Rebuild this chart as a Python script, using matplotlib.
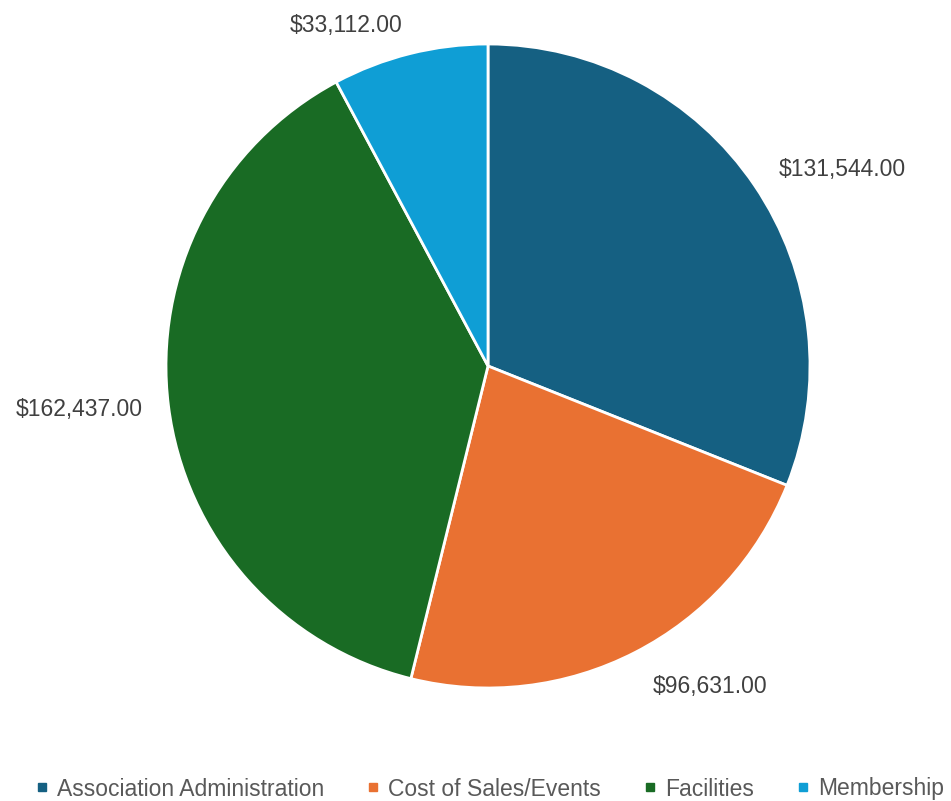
import numpy as np
import matplotlib.pyplot as plt
from matplotlib.lines import Line2D

categories = ['Association Administration', 'Cost of Sales/Events', 'Facilities', 'Membership']
amounts = [131544.00, 96631.00, 162437.00, 33112.00]
colors = ['#156082', '#E97132', '#196B24', '#0F9ED5']
label_dist = [1.09, 1.12, 1.08, 1.09]

plt.rcParams['font.family'] = ['Liberation Sans', 'DejaVu Sans']

fig = plt.figure(figsize=(9.51, 8.01), dpi=100)
ax = fig.add_axes([0, 0, 1, 1])

cx, cy, r = 488, 435, 322
wedges, _ = ax.pie(amounts, colors=colors, startangle=90, counterclock=False,
                   center=(cx, cy), radius=r, frame=True,
                   wedgeprops=dict(edgecolor='white', linewidth=2))
ax.set_xlim(0, 951)
ax.set_ylim(0, 801)
ax.set_aspect('equal')
ax.axis('off')

for w, val, d in zip(wedges, amounts, label_dist):
    mid = np.deg2rad((w.theta1 + w.theta2) / 2)
    x = cx + d * r * np.cos(mid)
    y = cy + d * r * np.sin(mid)
    ha = 'left' if np.cos(mid) > 0 else 'right'
    ax.text(x, y, '${:,.2f}'.format(val), ha=ha, va='center',
            fontsize=16.5, color='#404040')

handles = [Line2D([], [], marker='s', linestyle='', markersize=5.5,
                  markerfacecolor=c, markeredgecolor=c) for c in colors]
fig.legend(handles, categories, loc='center', bbox_to_anchor=(490 / 951, 12 / 801),
           ncol=4, frameon=False, handlelength=0.5, handletextpad=0.4,
           columnspacing=1.9, labelcolor='#595959',
           prop={'family': ['Liberation Sans', 'DejaVu Sans'], 'size': 16.5})

fig.savefig('out.png', dpi=100)
